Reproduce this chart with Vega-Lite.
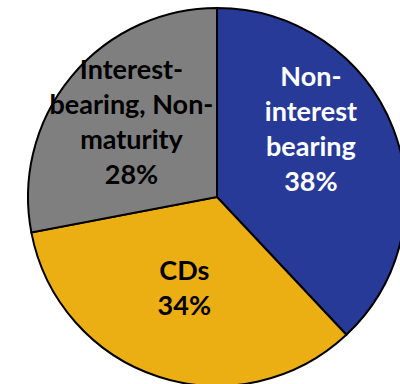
{
  "$schema": "https://vega.github.io/schema/vega-lite/v6.json",
  "width": 366,
  "height": 374,
  "autosize": "none",
  "padding": {"left": 34, "top": 10, "right": 0, "bottom": 0},
  "background": "white",
  "view": {"stroke": null},
  "data": {
    "values": [
      {"segment": "Non-interest bearing", "label": "Non-\ninterest\nbearing", "share": 38},
      {"segment": "CDs", "label": "CDs", "share": 34},
      {"segment": "Interest-bearing, Non-maturity", "label": "Interest-\nbearing, Non-\nmaturity", "share": 28}
    ]
  },
  "transform": [
    {"calculate": "datum.label + '\\n' + datum.share + '%'", "as": "caption"}
  ],
  "encoding": {
    "theta": {"field": "share", "type": "quantitative", "stack": true},
    "order": {"field": "share", "sort": "descending"}
  },
  "layer": [
    {
      "mark": {"type": "arc", "outerRadius": 189, "stroke": "black", "strokeWidth": 2},
      "encoding": {
        "color": {
          "field": "segment",
          "type": "nominal",
          "scale": {
            "domain": ["Non-interest bearing", "CDs", "Interest-bearing, Non-maturity"],
            "range": ["#283A98", "#EBAF13", "#7F7F7F"]
          },
          "legend": null
        }
      }
    },
    {
      "mark": {"type": "text", "radius": 101, "dy": -82, "font": "Lato", "fontWeight": "bold", "fontSize": 27, "lineBreak": "\n", "lineHeight": 35, "align": "center", "baseline": "middle"},
      "encoding": {
        "detail": {"field": "segment"},
        "text": {"condition": {"test": "datum.segment === 'Non-interest bearing'", "field": "caption"}, "value": ""},
        "color": {"value": "white"}
      }
    },
    {
      "mark": {"type": "text", "radius": 96, "dx": -3, "dy": -16, "font": "Lato", "fontWeight": "bold", "fontSize": 27, "lineBreak": "\n", "lineHeight": 35, "align": "center", "baseline": "middle"},
      "encoding": {
        "detail": {"field": "segment"},
        "text": {"condition": {"test": "datum.segment === 'CDs'", "field": "caption"}, "value": ""},
        "color": {"value": "black"}
      }
    },
    {
      "mark": {"type": "text", "radius": 111, "dy": -55, "font": "Lato", "fontWeight": "bold", "fontSize": 27, "lineBreak": "\n", "lineHeight": 35, "align": "center", "baseline": "middle"},
      "encoding": {
        "detail": {"field": "segment"},
        "text": {"condition": {"test": "datum.segment === 'Interest-bearing, Non-maturity'", "field": "caption"}, "value": ""},
        "color": {"value": "black"}
      }
    }
  ]
}
